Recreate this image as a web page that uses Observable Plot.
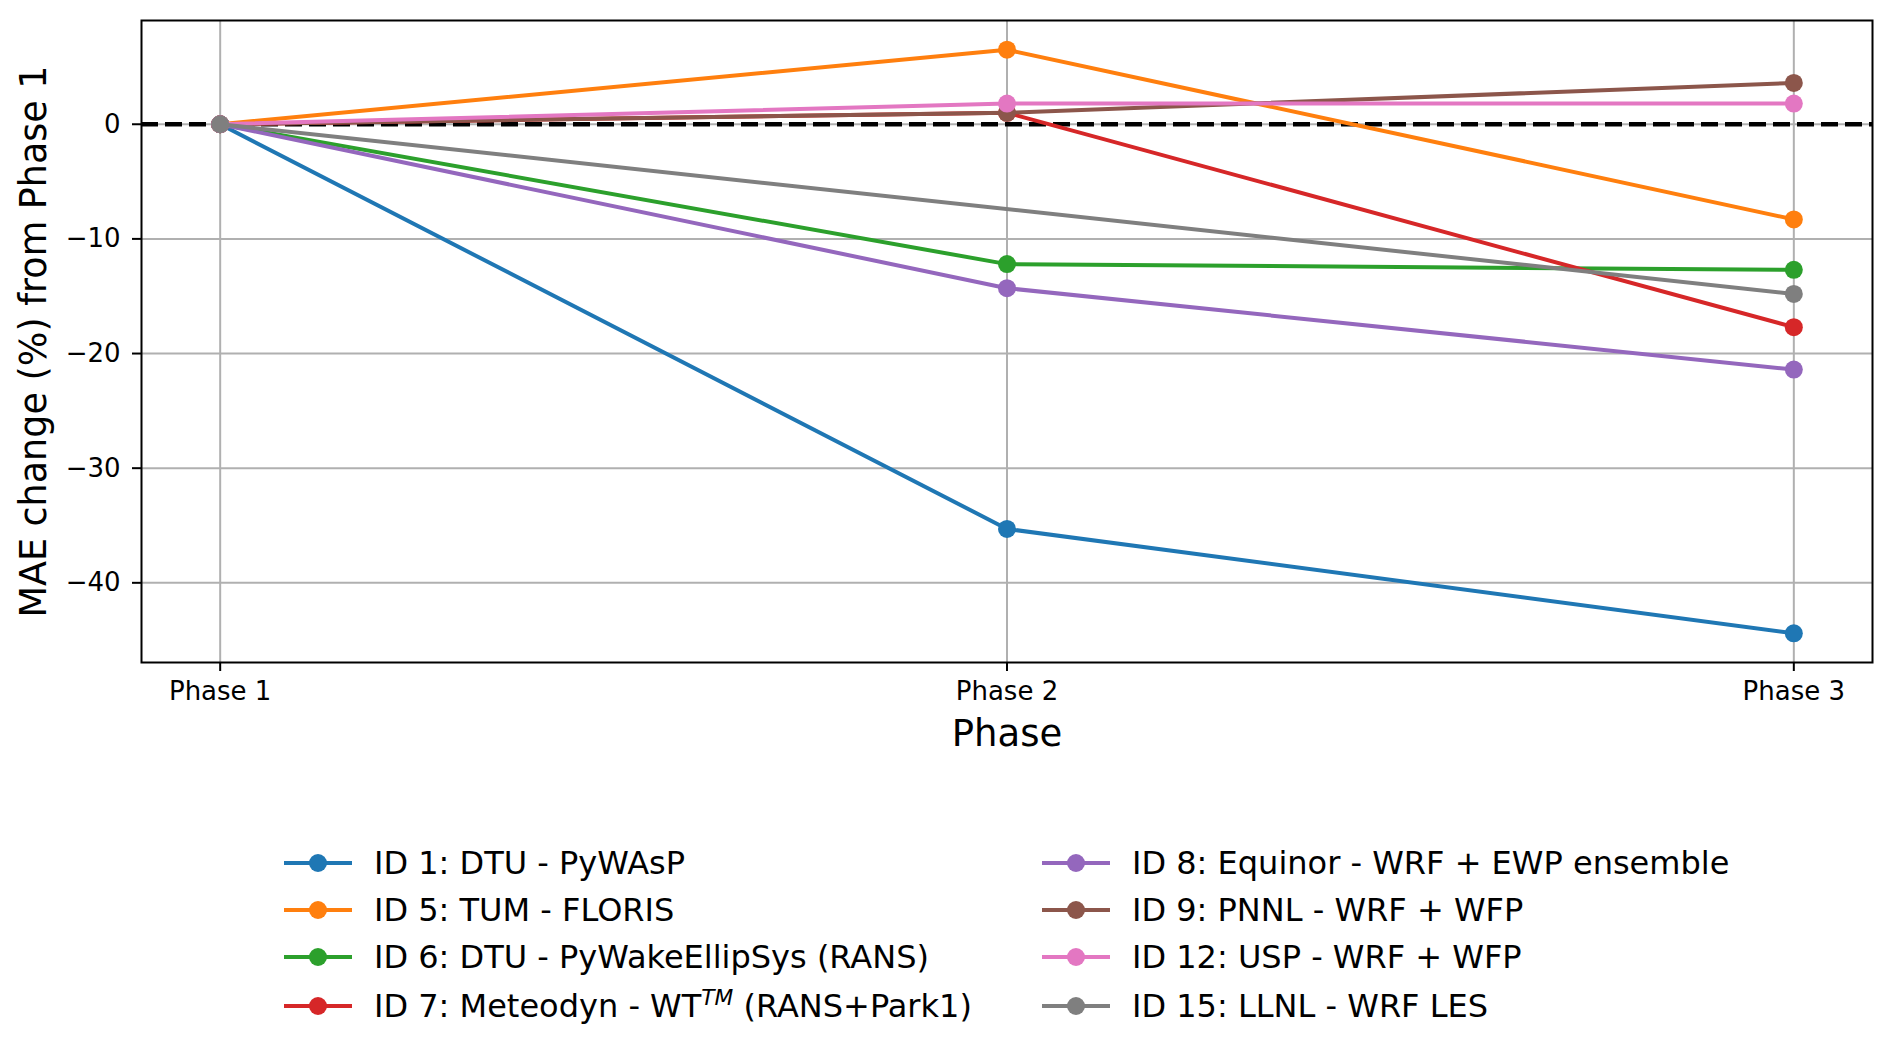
<!DOCTYPE html>
<html><head><meta charset="utf-8">
<script src="https://cdn.jsdelivr.net/npm/d3@7"></script>
<script src="https://cdn.jsdelivr.net/npm/@observablehq/plot@0.6"></script>
<style>
body{margin:0;background:#fff;font-family:"DejaVu Sans",sans-serif;}
#wrap{position:relative;width:1892px;height:1045px;overflow:hidden;}
#wrap svg{display:block;}
.leg{position:absolute;display:flex;align-items:center;height:40px;font-size:32px;white-space:nowrap;color:#000;line-height:1;}
.leg svg{margin-right:22px;}
.leg sup{font-size:0.68em;font-style:italic;vertical-align:0.55em;line-height:0;}
</style></head><body><div id="wrap"></div>
<script>
// ---- data ----
const phases = ["Phase 1", "Phase 2", "Phase 3"];
const seriesNames = [
  "ID 1: DTU - PyWAsP",
  "ID 5: TUM - FLORIS",
  "ID 6: DTU - PyWakeEllipSys (RANS)",
  "ID 7: Meteodyn - WT^TM (RANS+Park1)",
  "ID 8: Equinor - WRF + EWP ensemble",
  "ID 9: PNNL - WRF + WFP",
  "ID 12: USP - WRF + WFP",
  "ID 15: LLNL - WRF LES"
];
const id1  = [0, -35.3, -44.4];
const id5  = [0, 6.5, -8.3];
const id6  = [0, -12.2, -12.7];
const id7  = [0, 1.0, -17.7];
const id8  = [0, -14.3, -21.4];
const id9  = [0, 1.0, 3.6];
const id12 = [0, 1.8, 1.8];
const id15 = [0, null, -14.8];
const seriesValues = [id1, id5, id6, id7, id8, id9, id12, id15];
const colors = ["#1f77b4", "#ff7f0e", "#2ca02c", "#d62728", "#9467bd", "#8c564b", "#e377c2", "#7f7f7f"];
const yTicks = [-40, -30, -20, -10, 0];
const xLabel = "Phase";
const yLabel = "MAE change (%) from Phase 1";

// ---- build rows ----
const seriesRows = seriesValues.map((vals, s) =>
  vals.map((v, i) => ({series: seriesNames[s], phase: i, value: v})).filter(d => d.value != null)
);

const marks = [
  Plot.gridX({ticks: [0, 1, 2], stroke: "#b0b0b0", strokeOpacity: 1, strokeWidth: 2}),
  Plot.gridY({ticks: yTicks, stroke: "#b0b0b0", strokeOpacity: 1, strokeWidth: 2}),
  Plot.ruleY([0], {stroke: "#000", strokeWidth: 4.5, strokeDasharray: "17,7"})
];
seriesRows.forEach((rows, s) => {
  marks.push(Plot.line(rows, {x: "phase", y: "value", stroke: colors[s], strokeWidth: 4}));
  marks.push(Plot.dot(rows, {x: "phase", y: "value", fill: colors[s], r: 9}));
});
marks.push(
  Plot.axisX({ticks: [0, 1, 2], tickFormat: d => phases[d], tickSize: 9, tickPadding: 10, strokeWidth: 2, fontSize: 26, label: null}),
  Plot.axisY({ticks: yTicks, tickSize: 9, tickPadding: 12, strokeWidth: 2, fontSize: 26, label: null}),
  Plot.text([xLabel], {frameAnchor: "bottom", dy: 72, fontSize: 37, lineAnchor: "middle", textAnchor: "middle", fill: "#000"}),
  Plot.text([yLabel], {frameAnchor: "left", dx: -107, rotate: -90, fontSize: 36.5, lineAnchor: "middle", textAnchor: "middle", fill: "#000"}),
  Plot.frame({stroke: "#000", strokeWidth: 2})
);

const chart = Plot.plot({
  width: 1892,
  height: 780,
  marginLeft: 141,
  marginRight: 20,
  marginTop: 20,
  marginBottom: 118,
  style: {fontFamily: "DejaVu Sans", fontSize: "26px", color: "#000", background: "#fff"},
  x: {type: "linear", domain: [-0.1, 2.1]},
  y: {domain: [-46.95, 9.05]},
  marks
});
const wrap = document.getElementById("wrap");
wrap.appendChild(chart);

// ---- legend ----
const legendRowsY = [863, 910, 957, 1006];
const colX = [284, 1042];
seriesNames.forEach((name, s) => {
  const col = Math.floor(s / 4), row = s % 4;
  const div = document.createElement("div");
  div.className = "leg";
  div.style.left = colX[col] + "px";
  div.style.top = (legendRowsY[row] - 20) + "px";
  const sw = `<svg width="68" height="20"><line x1="0" x2="68" y1="10" y2="10" stroke="${colors[s]}" stroke-width="4"/><circle cx="34" cy="10" r="9" fill="${colors[s]}"/></svg>`;
  const label = name.replace("^TM", "<sup>TM</sup>");
  div.innerHTML = sw + "<span>" + label + "</span>";
  wrap.appendChild(div);
});
</script></body></html>
